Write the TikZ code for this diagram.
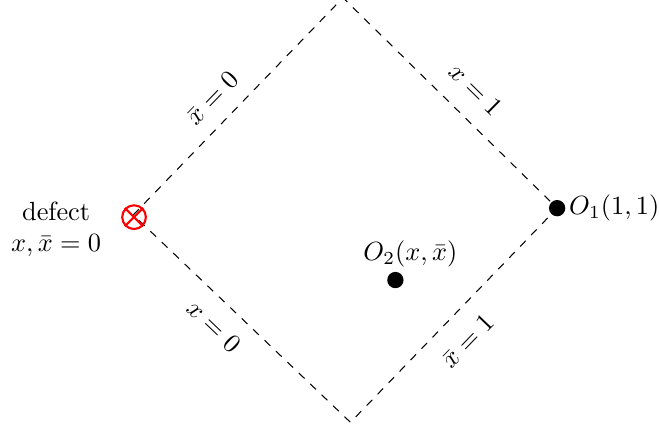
\documentclass[tikz,border=0pt]{standalone}
\begin{document}
\begin{tikzpicture}[
    dot/.style={circle, fill=black, inner sep=0pt, minimum size=6.2pt},
    defectmark/.style={circle, draw=red, thick, inner sep=0pt, minimum size=9pt},
    edgelabel/.style={sloped, inner sep=2pt}
  ]
  \useasboundingbox (0,0) rectangle (8.80,5.73);
  % corners of the diamond
  \coordinate (L) at (1.78,2.86);
  \coordinate (T) at (4.58,5.76);
  \coordinate (R) at (7.44,2.95);
  \coordinate (B) at (4.68,0.09);
  \draw[dashed]
    (L) -- node[edgelabel, above=4pt, pos=0.46] {$\bar{x}=0$} (T)
        -- node[edgelabel, above=5pt, pos=0.53] {$x=1$} (R)
        -- node[edgelabel, below=5pt, pos=0.53] {$\bar{x}=1$} (B)
        -- node[edgelabel, below=4pt, pos=0.55] {$x=0$} (L);
  % defect
  \node[defectmark] (defect) at (1.79,2.83) {};
  \draw[red, thick] (defect.north west) -- (defect.south east);
  \draw[red, thick] (defect.north east) -- (defect.south west);
  \node[align=center] (defectlabel) at (0.75,2.67) {defect\\$x,\bar{x}=0$};
  % operators
  \node[dot] (o1) at (R) {};
  \node[anchor=west, inner sep=1pt] (o1label) at (o1.east) {$O_1(1,1)$};
  \node[dot] (o2) at (5.28,1.99) {};
  \node (o2label) at (5.48,2.34) {$O_2(x,\bar{x})$};
\end{tikzpicture}
\end{document}
